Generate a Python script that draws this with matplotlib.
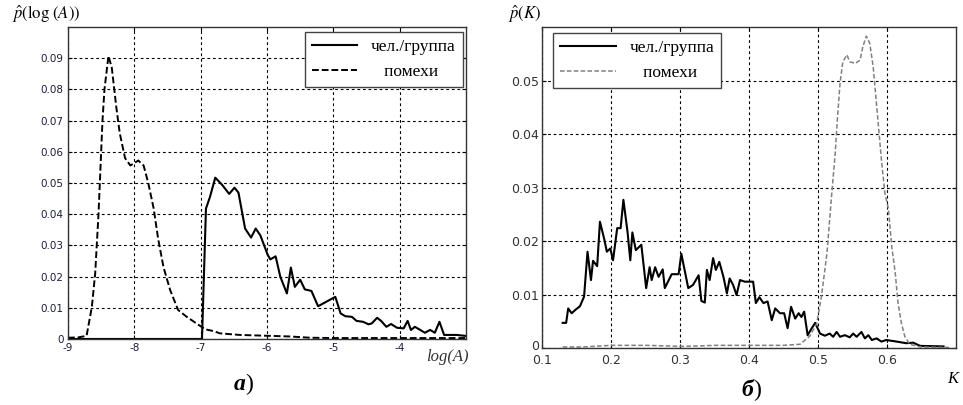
import numpy as np
import matplotlib.pyplot as plt
from matplotlib.transforms import ScaledTranslation

plt.rcParams['mathtext.fontset'] = 'stix'
plt.rcParams['axes.unicode_minus'] = False

# --- panel a: log(A) ---
a_noise_x = [-9.0, -8.85, -8.72, -8.64, -8.59, -8.54, -8.52, -8.48, -8.45, -8.39, -8.34,
             -8.27, -8.22, -8.14, -8.06, -7.94, -7.86, -7.79, -7.71, -7.64, -7.56, -7.46,
             -7.34, -7.21, -7.03, -6.93, -6.80, -6.71, -6.41, -5.95, -5.65, -5.35, -5.0,
             -4.0, -3.0]
a_noise_y = [0.0004, 0.0005, 0.001, 0.0103, 0.021, 0.040, 0.050, 0.070, 0.080, 0.0907, 0.087,
             0.074, 0.066, 0.058, 0.0556, 0.0572, 0.0556, 0.050, 0.042, 0.032, 0.023, 0.0157,
             0.0093, 0.0071, 0.0045, 0.0031, 0.0025, 0.0018, 0.0013, 0.001, 0.0008, 0.0004, 0.0003,
             0.0003, 0.0003]

a_group_x = [-9.0, -7.0, -6.98, -6.92, -6.86, -6.78, -6.68, -6.57, -6.49, -6.43, -6.33,
             -6.24, -6.17, -6.10, -5.99, -5.95, -5.87, -5.80, -5.70, -5.64, -5.58, -5.50,
             -5.43, -5.33, -5.23, -4.97, -4.89, -4.82, -4.72, -4.65, -4.55, -4.47, -4.42,
             -4.34, -4.28, -4.20, -4.13, -4.04, -3.94, -3.88, -3.83, -3.77, -3.69, -3.62,
             -3.54, -3.47, -3.40, -3.33, -3.14, -3.01]
a_group_y = [0.0, 0.0, 0.0, 0.0418, 0.0455, 0.0517, 0.0495, 0.0465, 0.0485, 0.0469, 0.0354,
             0.0325, 0.0354, 0.0332, 0.027, 0.0255, 0.0265, 0.0200, 0.0146, 0.0229, 0.0167, 0.019,
             0.0159, 0.0154, 0.0105, 0.0135, 0.0082, 0.0073, 0.0071, 0.0058, 0.0055, 0.0047, 0.005,
             0.0068, 0.0058, 0.0039, 0.0048, 0.0036, 0.0034, 0.0058, 0.0029, 0.0039, 0.0029, 0.002,
             0.0029, 0.002, 0.0055, 0.0013, 0.0013, 0.001]

# --- panel б: K ---
k_group_x = [0.130, 0.135, 0.138, 0.143, 0.149, 0.155, 0.161, 0.166, 0.171, 0.174, 0.180,
             0.184, 0.190, 0.194, 0.199, 0.203, 0.209, 0.214, 0.218, 0.224, 0.228, 0.231,
             0.236, 0.244, 0.251, 0.256, 0.259, 0.264, 0.269, 0.275, 0.278, 0.288, 0.298,
             0.302, 0.312, 0.319, 0.327, 0.331, 0.336, 0.339, 0.343, 0.348, 0.352, 0.357,
             0.363, 0.368, 0.372, 0.377, 0.382, 0.387, 0.394, 0.406, 0.410, 0.415, 0.421,
             0.427, 0.433, 0.438, 0.445, 0.451, 0.456, 0.461, 0.467, 0.472, 0.476, 0.480,
             0.485, 0.491, 0.496, 0.503, 0.510, 0.517, 0.522, 0.527, 0.532, 0.539, 0.546,
             0.551, 0.556, 0.563, 0.568, 0.573, 0.578, 0.585, 0.592, 0.599, 0.614, 0.628,
             0.638, 0.648, 0.682]
k_group_y = [0.0047, 0.0047, 0.0074, 0.0065, 0.0072, 0.0078, 0.0096, 0.018, 0.0127, 0.0163, 0.0153,
             0.0236, 0.0205, 0.018, 0.0186, 0.0164, 0.0224, 0.0224, 0.0277, 0.0217, 0.0164, 0.0216,
             0.0183, 0.0193, 0.0112, 0.0151, 0.0127, 0.0151, 0.0133, 0.0147, 0.0112, 0.0138, 0.0138,
             0.0176, 0.0112, 0.0118, 0.0136, 0.0088, 0.0085, 0.0146, 0.0127, 0.0168, 0.0146, 0.0161,
             0.0133, 0.0102, 0.013, 0.0118, 0.0099, 0.0127, 0.0124, 0.0124, 0.0084, 0.0095, 0.0084,
             0.0087, 0.0052, 0.0074, 0.0065, 0.0065, 0.0037, 0.0077, 0.0055, 0.0065, 0.0058, 0.0068,
             0.0024, 0.0037, 0.0047, 0.0027, 0.0023, 0.0027, 0.0021, 0.003, 0.0021, 0.0024, 0.002,
             0.0027, 0.0021, 0.003, 0.0018, 0.0024, 0.0015, 0.0018, 0.0012, 0.0015, 0.0012, 0.0009,
             0.001, 0.0004, 0.0003]

k_noise_x = [0.13, 0.16, 0.2, 0.25, 0.28, 0.3, 0.33, 0.35, 0.40, 0.45, 0.474, 0.488, 0.498,
             0.505, 0.513, 0.520, 0.525, 0.528, 0.532, 0.536, 0.542, 0.546, 0.554, 0.561, 0.565,
             0.570, 0.575, 0.580, 0.586, 0.592, 0.597, 0.602, 0.607, 0.612, 0.616, 0.621, 0.626,
             0.633, 0.648, 0.69]
k_noise_y = [0.0002, 0.0002, 0.0005, 0.0005, 0.0004, 0.0003, 0.0004, 0.0005, 0.0005, 0.0005, 0.0007,
             0.0022, 0.0045, 0.0096, 0.0177, 0.0289, 0.0364, 0.0426, 0.0495, 0.0535, 0.0548, 0.0535,
             0.0532, 0.0538, 0.0563, 0.0583, 0.057, 0.0526, 0.0439, 0.0351, 0.0289, 0.0261, 0.0189,
             0.014, 0.0084, 0.0046, 0.0021, 0.0007, 0.0002, 0.0001]

labels = ['чел./группа', '   помехи']

fig = plt.figure(figsize=(9.63, 4.05), dpi=100)
ax1 = fig.add_axes([0.0706, 0.163, 0.4133, 0.7704])
ax2 = fig.add_axes([0.5628, 0.1407, 0.4299, 0.7926])

grid_style = dict(color='black', linestyle=(0, (2.5, 2.5)), linewidth=0.8)

# panel a
ax1.plot(a_group_x, a_group_y, color='black', lw=1.5, label=labels[0])
ax1.plot(a_noise_x, a_noise_y, color='black', lw=1.4, linestyle=(0, (3.5, 1.5)), label=labels[1])
ax1.set_xlim(-9, -3)
ax1.set_ylim(0, 0.1)
ax1.set_xticks([-9, -8, -7, -6, -5, -4])
ax1.set_yticks([0, 0.01, 0.02, 0.03, 0.04, 0.05, 0.06, 0.07, 0.08, 0.09])
ax1.set_yticklabels(['0', '0.01', '0.02', '0.03', '0.04', '0.05', '0.06', '0.07', '0.08', '0.09'])
ax1.grid(True, **grid_style)
ax1.tick_params(direction='in', length=3, top=True, right=True, labelsize=7.5,
                labelcolor='#1c1c3c', pad=3)
leg1 = ax1.legend(loc='upper right', bbox_to_anchor=(0.992, 0.984), borderaxespad=0,
                  fancybox=False, edgecolor='#444444', framealpha=1,
                  prop={'family': 'Liberation Serif', 'size': 12.5}, handlelength=2.6)
leg1.get_frame().set_linewidth(1.0)

# panel б
ax2.plot(k_group_x, k_group_y, color='black', lw=1.5, label=labels[0])
ax2.plot(k_noise_x, k_noise_y, color='#808080', lw=1.1, linestyle=(0, (3, 1.5)), label=labels[1])
ax2.set_xlim(0.1, 0.7)
ax2.set_ylim(0, 0.06)
ax2.set_xticks([0.1, 0.2, 0.3, 0.4, 0.5, 0.6])
ax2.set_xticklabels(['0.1', '0.2', '0.3', '0.4', '0.5', '0.6'])
ax2.set_yticks([0, 0.01, 0.02, 0.03, 0.04, 0.05])
ax2.set_yticklabels(['0', '0.01', '0.02', '0.03', '0.04', '0.05'])
ax2.grid(True, **grid_style)
ax2.tick_params(direction='in', length=3, top=True, right=True, labelsize=9,
                labelcolor='#333333', pad=2)
ax2.tick_params(axis='x', pad=4)
# nudge the "0" label up slightly so it clears "0.1"
zero_lbl = ax2.get_yticklabels()[0]
zero_lbl.set_transform(zero_lbl.get_transform() + ScaledTranslation(0, 2.5 / 72, fig.dpi_scale_trans))
leg2 = ax2.legend(loc='upper left', bbox_to_anchor=(0.027, 0.981), borderaxespad=0,
                  fancybox=False, edgecolor='#444444', framealpha=1,
                  prop={'family': 'Liberation Serif', 'size': 12.5}, handlelength=3.2)
leg2.get_frame().set_linewidth(1.0)

for ax in (ax1, ax2):
    for s in ax.spines.values():
        s.set_color('#333333')
        s.set_linewidth(1.0)

# axis captions
fig.text(0.012, 0.965, r'$\hat{p}(\log\,(A))$', fontsize=12, va='center')
fig.text(0.442, 0.118, 'log(A)', fontsize=12, style='italic', family='Liberation Serif',
         color='#333333', va='center')
fig.text(0.528, 0.965, r'$\hat{p}(K)$', fontsize=12, va='center')
fig.text(0.984, 0.065, 'K', fontsize=12, style='italic', family='Liberation Serif', va='center')

# panel captions
fig.text(0.255, 0.05, 'а', fontsize=17, weight='bold', style='italic',
         family='Liberation Serif', ha='right', va='center')
fig.text(0.255, 0.05, ')', fontsize=17, family='Liberation Serif', ha='left', va='center')
fig.text(0.782, 0.037, 'б', fontsize=17, weight='bold', style='italic',
         family='Liberation Serif', ha='right', va='center')
fig.text(0.782, 0.037, ')', fontsize=17, family='Liberation Serif', ha='left', va='center')

fig.savefig('out.png', dpi=100, facecolor='white')
